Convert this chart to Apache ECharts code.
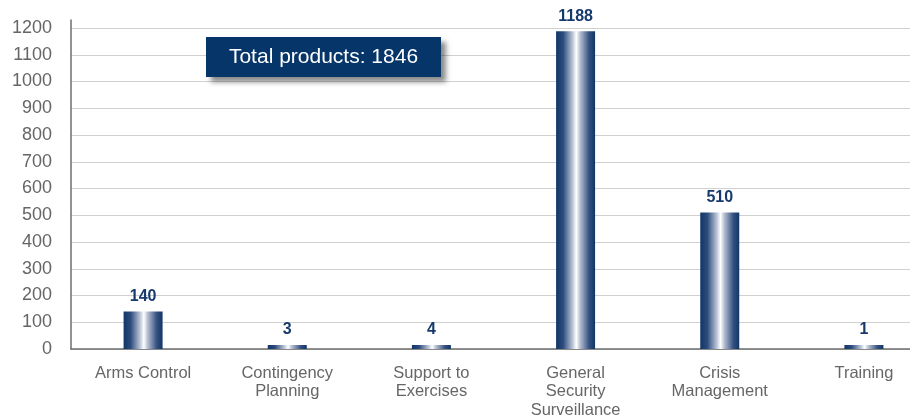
<!DOCTYPE html>
<html>
<head>
<meta charset="utf-8">
<script src="https://cdn.jsdelivr.net/npm/echarts@6/dist/echarts.min.js"></script>
<style>
  html, body { margin: 0; padding: 0; background: #fff; }
  #chart { width: 910px; height: 415px; }
</style>
</head>
<body>
<div id="chart"></div>
<script>
// Products by activity
const categories = ['Arms Control', 'Contingency\nPlanning', 'Support to\nExercises', 'General\nSecurity\nSurveillance', 'Crisis\nManagement', 'Training'];
const products = [140, 3, 4, 1188, 510, 1];
const totalLabel = 'Total products: 1846';

const FONT = '"Liberation Sans", Arial, Helvetica, sans-serif';
const NAVY = '#163a6b';

// Cylinder-like shading across each bar
const barFill = new echarts.graphic.LinearGradient(0, 0, 1, 0, [
  { offset: 0, color: '#123666' },
  { offset: 0.18, color: '#2b4b7c' },
  { offset: 0.42, color: '#b9c3d6' },
  { offset: 0.52, color: '#ffffff' },
  { offset: 0.62, color: '#b3bdd1' },
  { offset: 0.85, color: '#34507f' },
  { offset: 1, color: '#123666' }
]);

const chart = echarts.init(document.getElementById('chart'), null, { renderer: 'canvas' });
chart.setOption({
  animation: false,
  grid: { left: 71, top: 20, bottom: 66, width: 865, containLabel: false, outerBoundsMode: 'none' },
  xAxis: {
    type: 'category',
    data: categories,
    axisLine: { show: true, lineStyle: { color: '#6e6e6e', width: 1.5 } },
    axisTick: { show: false },
    axisLabel: {
      color: '#666', fontFamily: FONT, fontSize: 16.5, lineHeight: 18.5, margin: 15, interval: 0
    }
  },
  yAxis: {
    type: 'value',
    min: 0, max: 1230, interval: 100,
    axisLine: { show: true, lineStyle: { color: '#6e6e6e', width: 1.5 } },
    axisTick: { show: false },
    axisLabel: {
      color: '#666', fontFamily: FONT, fontSize: 18, margin: 19, showMaxLabel: false,
      formatter: v => (v % 100 === 0 ? String(v) : '')
    },
    splitLine: { show: true, showMaxLine: false, lineStyle: { color: '#d0d0d0', width: 1 } }
  },
  series: [{
    type: 'bar',
    data: products,
    barWidth: 39,
    barMinHeight: 4,
    itemStyle: { color: barFill },
    label: {
      show: true, position: 'top', distance: 7,
      color: NAVY, fontFamily: FONT, fontWeight: 'bold', fontSize: 16
    }
  }],
  graphic: [{
    type: 'group',
    left: 206, top: 37,
    z: 100,
    children: [
      {
        type: 'rect',
        z: 100,
        shape: { x: 0, y: 0, width: 235, height: 40 },
        style: {
          fill: '#06356a',
          shadowColor: 'rgba(0,0,0,0.45)', shadowBlur: 5, shadowOffsetX: 5, shadowOffsetY: 5
        }
      },
      {
        type: 'text',
        z: 101,
        x: 117.5, y: 20,
        style: {
          text: totalLabel, fill: '#fff', fontFamily: FONT, fontSize: 21,
          align: 'center', verticalAlign: 'middle'
        }
      }
    ]
  }]
});
</script>
</body>
</html>
